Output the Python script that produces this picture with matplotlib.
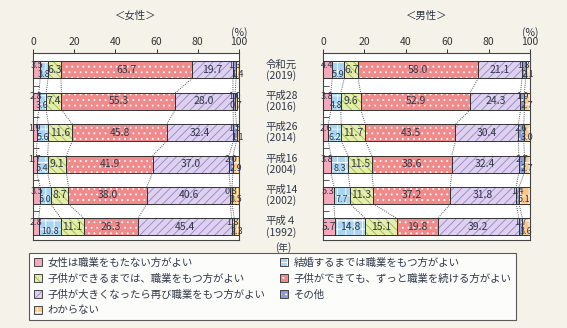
import matplotlib
matplotlib.use("Agg")
import matplotlib.pyplot as plt
import matplotlib.patches as mpatches
import matplotlib.transforms as mtrans
from matplotlib.legend_handler import HandlerTuple
import numpy as np

plt.rcParams['font.family'] = ['Noto Sans CJK JP', 'DejaVu Sans']
plt.rcParams['hatch.linewidth'] = 0.6

# categories (legend order)
categories = ['女性は職業をもたない方がよい',
              '結婚するまでは職業をもつ方がよい',
              '子供ができるまでは、職業をもつ方がよい',
              '子供ができても、ずっと職業を続ける方がよい',
              '子供が大きくなったら再び職業をもつ方がよい',
              'その他',
              'わからない']

years = ['令和元\n(2019)', '平成28\n(2016)', '平成26\n(2014)',
         '平成16\n(2004)', '平成14\n(2002)', '平成４\n(1992)']

# one row per survey year, values in category order (%)
female = [[3.5, 3.8, 6.3, 63.7, 19.7, 1.6, 1.4],
          [2.8, 3.6, 7.4, 55.3, 28.0, 1.0, 0.7],
          [1.9, 5.6, 11.6, 45.8, 32.4, 1.5, 1.1],
          [1.7, 5.4, 9.1, 41.9, 37.0, 2.0, 2.9],
          [3.5, 5.0, 8.7, 38.0, 40.6, 0.8, 3.5],
          [2.8, 10.8, 11.1, 26.3, 45.4, 1.3, 2.3]]

male = [[4.4, 5.9, 6.7, 58.0, 21.1, 1.8, 2.1],
        [3.8, 4.8, 9.6, 52.9, 24.3, 1.9, 2.7],
        [2.6, 6.2, 11.7, 43.5, 30.4, 2.6, 3.0],
        [3.8, 8.3, 11.5, 38.6, 32.4, 2.7, 2.7],
        [5.3, 7.7, 11.3, 37.2, 31.8, 1.4, 5.1],
        [5.7, 14.8, 15.1, 19.8, 39.2, 1.7, 3.6]]

fills = ['#f6a9bb', '#a9d5f3', '#e4ecae', '#f18b8b', '#ddd1ef', '#8e9bd9', '#f9c88a']
hatches = [None, '++', '\\\\\\\\', '...', '////', '...', '++']
hatch_cols = ['#f6a9bb', 'white', '#9dbb3c', 'white', '#9a83c8', 'white', 'white']

txt_col = '#2f3848'
bg = '#f5f2e9'
bar_h = 0.54

fig = plt.figure(figsize=(5.67, 3.28), dpi=100, facecolor=bg)
ax_f = fig.add_axes([33/567, 1-240/328, 206/567, 187/328])
ax_m = fig.add_axes([323/567, 1-240/328, 207/567, 187/328])


def draw_panel(ax, data, title):
    data = np.array(data)
    ypos = np.arange(len(data))
    lefts = np.hstack([np.zeros((len(data), 1)), np.cumsum(data, axis=1)[:, :-1]])
    for k in range(data.shape[1]):
        ax.barh(ypos, data[:, k], left=lefts[:, k], height=bar_h,
                color=fills[k], hatch=hatches[k], edgecolor=hatch_cols[k],
                linewidth=0, zorder=2)
        ax.barh(ypos, data[:, k], left=lefts[:, k], height=bar_h,
                fill=False, edgecolor='#333333', linewidth=0.7, zorder=3)
    # dotted connectors between segment boundaries
    cum = np.cumsum(data, axis=1)
    for i in range(len(data) - 1):
        for k in range(data.shape[1] - 1):
            ax.plot([cum[i, k], cum[i + 1, k]],
                    [ypos[i] + bar_h / 2, ypos[i + 1] - bar_h / 2],
                    ls=(0, (1, 1.2)), color='#555555', lw=0.7, zorder=1)
    # value labels
    for i in range(len(data)):
        centred_first = data[i, 0] >= 5.5 and data[i, 1] >= 5.5
        for k in range(data.shape[1]):
            xc = lefts[i, k] + data[i, k] / 2
            y = ypos[i]
            fs = 7.5
            if k in (0, 1) and not centred_first:
                y = y - 0.14 if k == 0 else y + 0.14
                fs = 6.5
            elif k in (5, 6):
                y = y - 0.14 if k == 5 else y + 0.14
                fs = 6.5
            ax.text(xc, y, f'{data[i, k]:.1f}', ha='center', va='center',
                    fontsize=fs, color=txt_col, zorder=4)

    ax.set_xlim(0, 100)
    ax.set_ylim(5.42, -0.54)
    ax.set_facecolor('white')
    ax.xaxis.tick_top()
    ax.set_xticks(np.arange(0, 101, 20))
    ax.tick_params(axis='x', direction='out', length=3, width=0.7,
                   labelsize=7.5, colors='#333333', pad=1)
    ax.set_yticks(np.arange(len(data) - 1) + 0.5)
    ax.set_yticklabels([])
    ax.tick_params(axis='y', direction='in', length=4, width=0.7, colors='#555555')
    for s in ax.spines.values():
        s.set_color('#444444')
        s.set_linewidth(0.8)
    ax.text(1.0, 1.11, '(%)', transform=ax.transAxes, ha='center', va='center',
            fontsize=7.5, color=txt_col)
    ax.text(0.5, 1.2, title, transform=ax.transAxes, ha='center', va='center',
            fontsize=7.5, color=txt_col)


draw_panel(ax_f, female, '＜女性＞')
draw_panel(ax_m, male, '＜男性＞')

tr = mtrans.blended_transform_factory(ax_f.transAxes, ax_f.transData)
for i, lab in enumerate(years):
    ax_f.text(1.205, i, lab, transform=tr, ha='center', va='center',
              fontsize=7.5, color=txt_col, linespacing=1.05)
ax_f.text(1.215, -0.04, '(年)', transform=ax_f.transAxes, ha='center',
          va='center', fontsize=7, color=txt_col)

handles = []
for k in range(len(categories)):
    p_fill = mpatches.Patch(facecolor=fills[k], hatch=hatches[k],
                            edgecolor=hatch_cols[k], linewidth=0)
    p_edge = mpatches.Patch(fill=False, edgecolor='#444444', linewidth=0.7)
    handles.append((p_fill, p_edge))
order = [0, 2, 4, 6, 1, 3, 5]
leg = fig.legend([handles[k] for k in order], [categories[k] for k in order],
                 handler_map={tuple: HandlerTuple(ndivide=1, pad=0)},
                 ncol=2, loc='upper left',
                 bbox_to_anchor=(29/567, 1-325/328, 487/567, 72/328),
                 mode='expand', fontsize=7.5, frameon=True, fancybox=False,
                 handlelength=0.8, handleheight=0.8, handletextpad=0.5,
                 labelspacing=0.55, borderaxespad=0, borderpad=0.45,
                 columnspacing=0.5)
leg.get_frame().set_edgecolor('#333333')
leg.get_frame().set_linewidth(0.8)
leg.get_frame().set_facecolor('white')
for t in leg.get_texts():
    t.set_color(txt_col)

fig.savefig('out.png', dpi=100, facecolor=bg)
